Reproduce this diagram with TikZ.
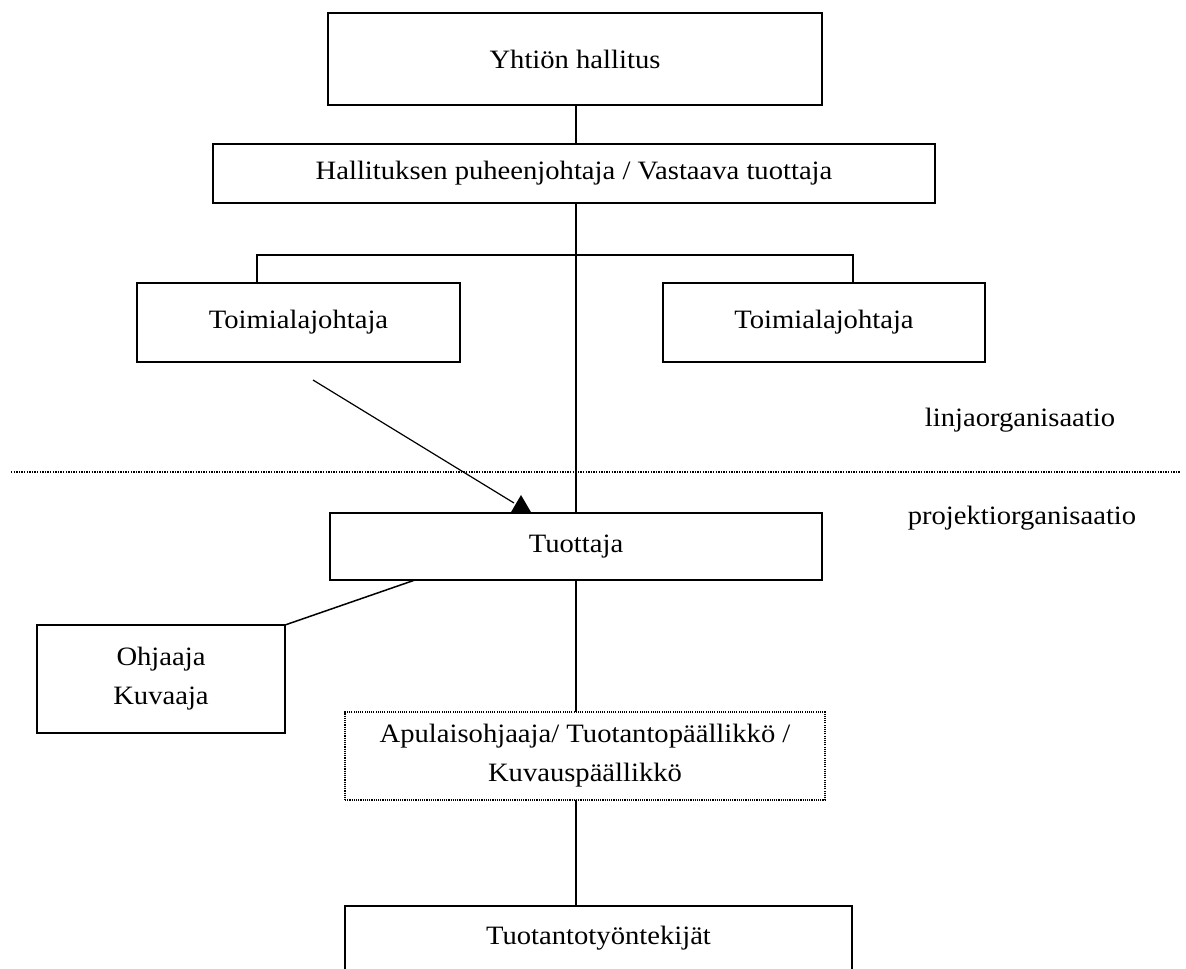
\documentclass[tikz,border=0pt]{standalone}
\usepackage{fontspec}
\setmainfont{Liberation Serif}[FakeStretch=1.08]
\usetikzlibrary{calc}
\begin{document}
\begin{tikzpicture}[x=1pt,y=-1pt,
  every node/.style={font=\fontsize{26.5}{39}\selectfont, align=center, inner sep=0pt, outer sep=0pt},
  orgbox/.style={draw, line width=1.7pt, fill=white},
  dottedbox/.style={draw, line width=1.2pt, dash pattern=on 1.1pt off 1.1pt},
  link/.style={line width=1.5pt},
  divider/.style={line width=1.4pt, dash pattern=on 1.3pt off 1.3pt}]
\useasboundingbox (0,0) rectangle (1186,969);

% company boxes
\node[orgbox, minimum width=494pt, minimum height=92pt] (board) at (575,59) {Yhtiön hallitus};
\node[orgbox, minimum width=722pt, minimum height=59pt] (chair) at (574,173.5) {Hallituksen puheenjohtaja / Vastaava tuottaja};
\node[orgbox, minimum width=323pt, minimum height=79pt] (divl) at (298.5,322.5) {Toimialajohtaja};
\node[orgbox, minimum width=322pt, minimum height=79pt] (divr) at (824,322.5) {Toimialajohtaja};

% project boxes
\node[orgbox, minimum width=492pt, minimum height=67pt] (prod) at (576,546.5) {Tuottaja};
\node[orgbox, minimum width=248pt, minimum height=108pt] (dir) at (161,679) {Ohjaaja\\Kuvaaja};
\node[dottedbox, minimum width=480pt, minimum height=88pt] (asst) at (585,756) {Apulaisohjaaja/ Tuotantopäällikkö /\\Kuvauspäällikkö};
\node[orgbox, anchor=north, minimum width=507pt, text height=17pt, text depth=70pt, inner ysep=21pt] (crew) at (598.5,906) {Tuotantotyöntekijät};

% section labels
\node (line) at (1020,420) {linjaorganisaatio};
\node (proj) at (1022,518) {projektiorganisaatio};

% divider between line and project organisation
\coordinate (dl) at (11,472);
\coordinate (dr) at (1180,472);
\draw[divider] (dl) -- (dr);

% spine
\coordinate (spine) at (576,0);
\draw[link] (spine |- board.south) -- (spine |- chair.north);
\draw[link] (spine |- chair.south) -- (spine |- prod.north);
\draw[link] (spine |- prod.south) -- (spine |- asst.north);
\draw[link] (spine |- asst.south) -- (spine |- crew.north);

% branch to the division heads
\coordinate (bl) at (257,255);
\coordinate (br) at (853,255);
\draw[link] (bl |- divl.north) -- (bl) -- (br) -- (br |- divr.north);

% arrow from division head to producer
\coordinate (as) at (313,380);
\coordinate (ah) at ([xshift=191pt]prod.north west);
\draw[line width=1.2pt] (as) -- ($(ah)+(-7,-10)$);
\fill ($(ah)+(0,-18)$) -- ($(ah)+(-10.5,0)$) -- ($(ah)+(10.5,0)$) -- cycle;

% producer to director / camera
\draw[link] ([xshift=85pt]prod.south west) -- (dir.north east);
\end{tikzpicture}
\end{document}
